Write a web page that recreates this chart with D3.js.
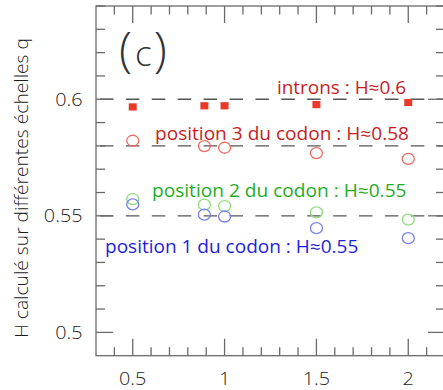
<!DOCTYPE html>
<html>
<head>
<meta charset="utf-8">
<script src="https://cdn.jsdelivr.net/npm/d3@7"></script>
<style>
  body { margin: 0; background: #fff; }
  svg { display: block; font-family: "Open Sans", "Liberation Sans", sans-serif; font-weight: 300; }
</style>
</head>
<body>
<svg id="chart" width="443" height="390"></svg>
<script>
// data
const qValues = [0.5, 0.89, 1, 1.5, 2]
const introns = [0.5967, 0.5972, 0.5972, 0.5977, 0.5986]
const codonPos3 = [0.5822, 0.5799, 0.5792, 0.5769, 0.5744]
const codonPos2 = [0.5572, 0.5548, 0.5542, 0.5515, 0.5484]
const codonPos1 = [0.5549, 0.5505, 0.5497, 0.5447, 0.5404]
const refLines = [0.6, 0.58, 0.55]
const xTicks = [0.5, 1, 1.5, 2]
const yTicks = [0.5, 0.55, 0.6]
const labels = [
  "introns : H\u22480.6",
  "position 3 du codon : H\u22480.58",
  "position 2 du codon : H\u22480.55",
  "position 1 du codon : H\u22480.55"
]

const frameL = 96, frameR = 445, frameT = 6, frameB = 355.7
const stretch = 1.1 // the figure's text is a bit wider than usual

const x = d3.scaleLinear().domain([0.3, 2.2]).range([frameL, frameR])
const y = d3.scaleLinear().domain([0.49, 0.64]).range([frameB, frameT])

const svg = d3.select("#chart")

function widen(sel, w) {
  sel.each(function() {
    const len = w || this.getComputedTextLength() * stretch
    d3.select(this).attr("textLength", len).attr("lengthAdjust", "spacingAndGlyphs")
  })
}

// dashed reference lines
svg.append("g")
  .selectAll("line")
  .data(refLines)
  .join("line")
  .attr("x1", 100).attr("x2", frameR)
  .attr("y1", d => y(d)).attr("y2", d => y(d))
  .attr("stroke", "#555")
  .attr("stroke-width", 1.3)
  .attr("stroke-dasharray", "13.5,12.4")

// frame + ticks
const tickCol = "#6a6a6a"
const xMinor = d3.range(0.4, 2.2, 0.1).map(d => +d.toFixed(2))
const yMinor = d3.range(0.5, 0.64, 0.01).map(d => +d.toFixed(2))
const isMajorX = d => xTicks.some(t => Math.abs(t - d) < 1e-6)
const isMajorY = d => yTicks.some(t => Math.abs(t - d) < 1e-6)

const axes = svg.append("g").attr("stroke", tickCol).attr("stroke-width", 1.3).attr("fill", "none")
axes.append("rect")
  .attr("x", frameL).attr("y", frameT)
  .attr("width", frameR - frameL).attr("height", frameB - frameT)

axes.append("g").selectAll("line").data(xMinor).join("line")
  .attr("x1", d => x(d)).attr("x2", d => x(d))
  .attr("y1", frameB).attr("y2", d => frameB - (isMajorX(d) ? 17 : 8.5))
axes.append("g").selectAll("line").data(xMinor).join("line")
  .attr("x1", d => x(d)).attr("x2", d => x(d))
  .attr("y1", frameT).attr("y2", d => frameT + (isMajorX(d) ? 17 : 8.5))
axes.append("g").selectAll("line").data(yMinor).join("line")
  .attr("y1", d => y(d)).attr("y2", d => y(d))
  .attr("x1", frameL).attr("x2", d => frameL + (isMajorY(d) ? 17 : 9))
axes.append("g").selectAll("line").data(yMinor).join("line")
  .attr("y1", d => y(d)).attr("y2", d => y(d))
  .attr("x1", frameR).attr("x2", d => frameR - (isMajorY(d) ? 17 : 9))

// tick labels
svg.append("g").selectAll("text")
  .data(xTicks).join("text")
  .attr("x", d => x(d)).attr("y", 385)
  .attr("text-anchor", "middle")
  .attr("font-size", 18).attr("fill", "#1a1a1a")
  .text(d => d)
  .call(widen)

svg.append("g").selectAll("text")
  .data(yTicks).join("text")
  .attr("x", 82.5).attr("y", d => y(d) + 6.5)
  .attr("text-anchor", "end")
  .attr("font-size", 18).attr("fill", "#1a1a1a")
  .text(d => d)
  .call(widen)

// y axis title
svg.append("text")
  .attr("transform", "translate(28,188) rotate(-90)")
  .attr("text-anchor", "middle")
  .attr("font-size", 17.5).attr("fill", "#1a1a1a")
  .text("H calcul\u00e9 sur diff\u00e9rentes \u00e9chelles q")
  .call(widen, 300)

// panel tag
const tag = svg.append("text")
  .attr("x", 119).attr("y", 66)
  .attr("fill", "#333")
  .attr("font-weight", 200)
tag.append("tspan").attr("font-size", 48).text("(")
tag.append("tspan").attr("font-size", 35).attr("dx", 3).text("c")
tag.append("tspan").attr("font-size", 48).attr("dx", 2).text(")")

// series
svg.append("g").selectAll("rect")
  .data(qValues.map((q, i) => [q, introns[i]]))
  .join("rect")
  .attr("x", d => x(d[0])).attr("y", d => y(d[1]))
  .attr("transform", "translate(-4,-3.6)")
  .attr("width", 8).attr("height", 7.2)
  .attr("fill", "#e8392a")

const circleSeries = [
  {vals: codonPos3, col: "#ee6b5e"},
  {vals: codonPos2, col: "#8ddc78"},
  {vals: codonPos1, col: "#7880f2"}
]
circleSeries.forEach(s => {
  svg.append("g").selectAll("ellipse")
    .data(qValues.map((q, i) => [q, s.vals[i]]))
    .join("ellipse")
    .attr("cx", d => x(d[0])).attr("cy", d => y(d[1]))
    .attr("rx", 6).attr("ry", 5.5)
    .attr("fill", "none")
    .attr("stroke", s.col)
    .attr("stroke-width", 1.3)
})

// annotations
const annot = [
  {x: 277, y: 94, w: 129, col: "#c81e1e"},
  {x: 155, y: 140, w: 254, col: "#c81e1e"},
  {x: 152, y: 196.7, w: 254.5, col: "#1fae1f"},
  {x: 105, y: 253, w: 253.3, col: "#1e1ee0"}
]
labels.forEach((l, i) => {
  svg.append("text")
    .attr("x", annot[i].x).attr("y", annot[i].y)
    .attr("font-size", 17.5)
    .attr("font-weight", 400)
    .attr("fill", annot[i].col)
    .text(l)
    .call(widen, annot[i].w)
})
</script>
</body>
</html>
